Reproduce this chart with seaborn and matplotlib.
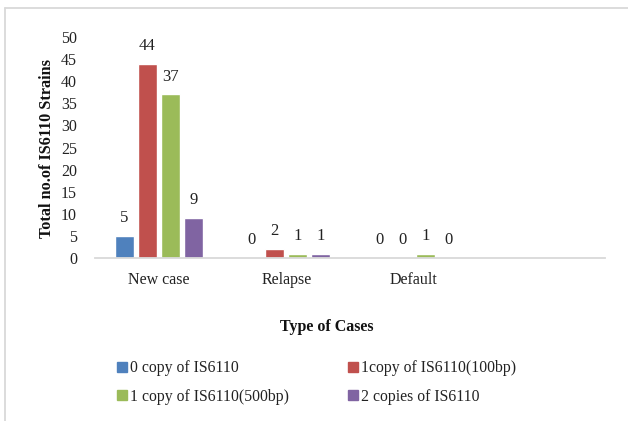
import matplotlib
matplotlib.use("Agg")
import matplotlib.pyplot as plt
from matplotlib.lines import Line2D
import seaborn as sns
import pandas as pd

# Strain counts per case type and IS6110 copy number
case_types = ["New case", "Relapse", "Default"]
series = ["0 copy of IS6110", "1copy of IS6110(100bp)",
          "1 copy of IS6110(500bp)", "2 copies of IS6110"]
zero_copy = [5, 0, 0]
one_copy_100bp = [44, 2, 0]
one_copy_500bp = [37, 1, 1]
two_copies = [9, 1, 0]
colors = ["#4F81BD", "#C0504D", "#9BBB59", "#8064A2"]

rows = []
for name, vals in zip(series, [zero_copy, one_copy_100bp, one_copy_500bp, two_copies]):
    for cat, v in zip(case_types, vals):
        rows.append({"Type of Cases": cat, "Series": name, "Count": v})
df = pd.DataFrame(rows)

sns.set_theme(style="white")
plt.rcParams["font.family"] = ["Liberation Serif", "DejaVu Serif"]

fig = plt.figure(figsize=(6.28, 4.21), dpi=100)
ax = fig.add_axes([95 / 628, 1 - 258 / 421, 510 / 628, (258 - 37) / 421])

sns.barplot(data=df, x="Type of Cases", y="Count", hue="Series",
            order=case_types, hue_order=series, palette=colors,
            width=0.72, gap=0.17, saturation=1, legend=False, ax=ax)

for cont in ax.containers:
    ax.bar_label(cont, fmt="%d", padding=7, fontsize=12, color="#222222")

ax.set_xlim(-0.5, 3.5)
ax.set_ylim(0, 50)
ax.set_yticks(range(0, 51, 5))
ax.set_xlabel("")
ax.set_ylabel("")
ax.tick_params(axis="y", length=0, pad=13, labelsize=11.5, labelcolor="#222222")
ax.tick_params(axis="x", length=0, pad=10, labelsize=11.5, labelcolor="#222222")
for side in ["top", "right", "left"]:
    ax.spines[side].set_visible(False)
ax.spines["bottom"].set_color("#D9D9D9")
ax.spines["bottom"].set_linewidth(1.3)

fig.text(47 / 628, 1 - 148 / 421, "Total no.of IS6110 Strains", rotation=90,
         ha="center", va="center", fontsize=11.7, fontweight="bold", color="#111111")
fig.text(327 / 628, 1 - 327 / 421, "Type of Cases", ha="center", va="center",
         fontsize=11.5, fontweight="bold", color="#111111")

# legend entries fill row by row
handles = [plt.Rectangle((0, 0), 1, 1, color=c) for c in colors]
order = [0, 2, 1, 3]
fig.legend([handles[i] for i in order], [series[i] for i in order], ncol=2,
           loc="upper left", bbox_to_anchor=(103 / 628, 1 - 346 / 421),
           frameon=False, fontsize=11.3, handlelength=0.6, handleheight=0.6,
           handletextpad=0.2, columnspacing=3.8, labelspacing=0.82,
           labelcolor="#222222")

# light outer frame along the left and top edges
fig.add_artist(Line2D([4.5 / 628, 4.5 / 628], [0, 1 - 8 / 421],
                      transform=fig.transFigure, color="#D9D9D9", lw=1.3))
fig.add_artist(Line2D([4.5 / 628, 1], [1 - 8 / 421, 1 - 8 / 421],
                      transform=fig.transFigure, color="#D9D9D9", lw=1.3))

fig.savefig("out.png", dpi=100)
